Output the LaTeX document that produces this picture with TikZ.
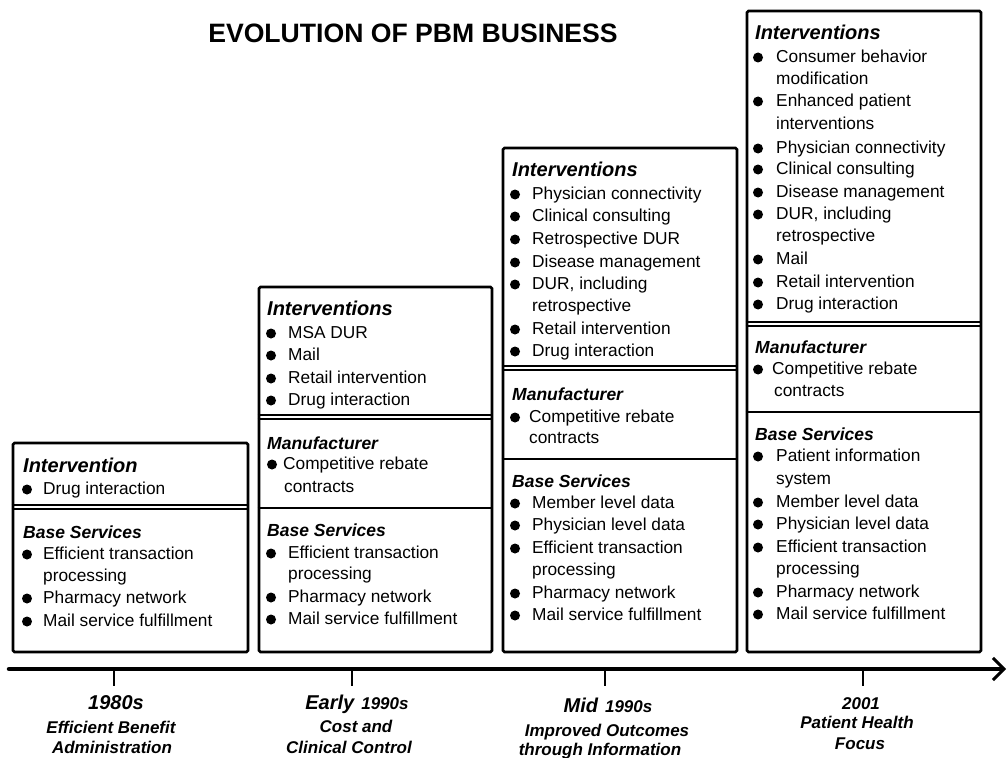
\documentclass[tikz,border=0pt]{standalone}
\usepackage{fontspec}
\setmainfont{Liberation Sans}
\usetikzlibrary{arrows.meta}
\tikzset{
  box/.style={draw, line width=2.6pt, rounded corners=1.5pt, inner sep=0pt},
  hdr/.style={anchor=west, inner sep=0pt, font=\fontsize{20}{24}\selectfont\bfseries\itshape, text height=14.3pt, text depth=0pt},
  sub/.style={anchor=west, inner sep=0pt, font=\fontsize{17.5}{21}\selectfont\bfseries\itshape, text height=12.5pt, text depth=0pt},
  itm/.style={anchor=west, inner sep=0pt, font=\fontsize{17.3}{20}\selectfont, text height=12.4pt, text depth=0pt},
  bul/.style={circle, fill, inner sep=0pt, minimum size=10pt},
  sepline/.style={line width=1.1pt},
  lbl/.style={inner sep=0pt, font=\fontsize{17}{20}\selectfont\bfseries\itshape, text height=12.2pt, text depth=0pt},
  tick/.style={line width=1.3pt},
}
\newcommand\bitem[5]{\node[bul] (#1b) at (#2,#4+1.5) {};\node[itm] (#1) at (#3,#4) {#5};}
\newcommand\citem[4]{\node[itm] (#1) at (#2,#3) {#4};}
\newcommand\bigw[1]{{\fontsize{20}{24}\selectfont #1}}
\begin{document}
\begin{tikzpicture}[x=1pt,y=-1pt]
\useasboundingbox (0,0) rectangle (1008,757);
% title
\node[inner sep=0pt, font=\fontsize{26.6}{30}\selectfont\bfseries] (title) at (413,33) {EVOLUTION OF PBM BUSINESS};

% boxes
\node[box, minimum width=235pt, minimum height=209pt] (b1) at (130.5,547.5) {};
\node[box, minimum width=233pt, minimum height=365pt] (b2) at (375.5,469.5) {};
\node[box, minimum width=234pt, minimum height=504pt] (b3) at (620,400) {};
\node[box, minimum width=234pt, minimum height=641pt] (b4) at (864,331.5) {};

% ---------- box 1
\node[hdr] (b1h) at (23,465) {Intervention};
\bitem{b1i1}{27}{43}{488}{Drug interaction}
\draw[sepline] (b1.west |- 0,505) -- (b1.east |- 0,505);
\draw[sepline] (b1.west |- 0,509) -- (b1.east |- 0,509);
\node[sub] (b1s) at (23,532) {Base Services};
\bitem{b1j1}{27}{43}{553}{Efficient transaction}
\citem{b1j1c}{43}{575}{processing}
\bitem{b1j2}{27}{43}{597}{Pharmacy network}
\bitem{b1j3}{27}{43}{620}{Mail service fulfillment}

% ---------- box 2
\node[hdr] (b2h) at (267,308) {Interventions};
\bitem{b2i1}{271}{288}{332}{MSA DUR}
\bitem{b2i2}{271}{288}{354}{Mail}
\bitem{b2i3}{271}{288}{377}{Retail intervention}
\bitem{b2i4}{271}{288}{399}{Drug interaction}
\draw[sepline] (b2.west |- 0,415) -- (b2.east |- 0,415);
\draw[sepline] (b2.west |- 0,419) -- (b2.east |- 0,419);
\node[sub] (b2m) at (267,443) {Manufacturer};
\bitem{b2m1}{272}{283}{463}{Competitive rebate}
\citem{b2m1c}{284}{486}{contracts}
\draw[sepline, line width=1.3pt] (b2.west |- 0,508) -- (b2.east |- 0,508);
\node[sub] (b2s) at (267,530) {Base Services};
\bitem{b2j1}{271}{288}{552}{Efficient transaction}
\citem{b2j1c}{288}{573}{processing}
\bitem{b2j2}{271}{288}{596}{Pharmacy network}
\bitem{b2j3}{271}{288}{618}{Mail service fulfillment}

% ---------- box 3
\node[hdr] (b3h) at (512,169) {Interventions};
\bitem{b3i1}{515}{532}{193}{Physician connectivity}
\bitem{b3i2}{515}{532}{215}{Clinical consulting}
\bitem{b3i3}{515}{532}{238}{Retrospective DUR}
\bitem{b3i4}{515}{532}{261}{Disease management}
\bitem{b3i5}{515}{532}{283}{DUR, including}
\citem{b3i5c}{532}{305}{retrospective}
\bitem{b3i6}{515}{532}{328}{Retail intervention}
\bitem{b3i7}{515}{532}{350}{Drug interaction}
\draw[sepline] (b3.west |- 0,366) -- (b3.east |- 0,366);
\draw[sepline] (b3.west |- 0,370) -- (b3.east |- 0,370);
\node[sub] (b3m) at (512,394) {Manufacturer};
\bitem{b3m1}{515}{529}{416}{Competitive rebate}
\citem{b3m1c}{529}{437}{contracts}
\draw[sepline, line width=1.3pt] (b3.west |- 0,459) -- (b3.east |- 0,459);
\node[sub] (b3s) at (512,481) {Base Services};
\bitem{b3j1}{515}{532}{502}{Member level data}
\bitem{b3j2}{515}{532}{524}{Physician level data}
\bitem{b3j3}{515}{532}{547}{Efficient transaction}
\citem{b3j3c}{532}{569}{processing}
\bitem{b3j4}{515}{532}{592}{Pharmacy network}
\bitem{b3j5}{515}{532}{614}{Mail service fulfillment}

% ---------- box 4
\node[hdr] (b4h) at (755,32) {Interventions};
\bitem{b4i1}{758}{776}{56}{Consumer behavior}
\citem{b4i1c}{776}{78}{modification}
\bitem{b4i2}{758}{776}{100}{Enhanced patient}
\citem{b4i2c}{776}{123}{interventions}
\bitem{b4i3}{758}{776}{147}{Physician connectivity}
\bitem{b4i4}{758}{776}{168}{Clinical consulting}
\bitem{b4i5}{758}{776}{191}{Disease management}
\bitem{b4i6}{758}{776}{213}{DUR, including}
\citem{b4i6c}{776}{235}{retrospective}
\bitem{b4i7}{758}{776}{258}{Mail}
\bitem{b4i8}{758}{776}{281}{Retail intervention}
\bitem{b4i9}{758}{776}{303}{Drug interaction}
\draw[sepline] (b4.west |- 0,322) -- (b4.east |- 0,322);
\draw[sepline] (b4.west |- 0,326) -- (b4.east |- 0,326);
\node[sub] (b4m) at (755,347) {Manufacturer};
\bitem{b4m1}{758}{772}{368}{Competitive rebate}
\citem{b4m1c}{774}{390}{contracts}
\draw[sepline, line width=1.3pt] (b4.west |- 0,412) -- (b4.east |- 0,412);
\node[sub] (b4s) at (755,434) {Base Services};
\bitem{b4j1}{758}{776}{455}{Patient information}
\citem{b4j1c}{776}{478}{system}
\bitem{b4j2}{758}{776}{501}{Member level data}
\bitem{b4j3}{758}{776}{523}{Physician level data}
\bitem{b4j4}{758}{776}{546}{Efficient transaction}
\citem{b4j4c}{776}{568}{processing}
\bitem{b4j5}{758}{776}{591}{Pharmacy network}
\bitem{b4j6}{758}{776}{613}{Mail service fulfillment}

% ---------- axis
\coordinate (axs) at (9,669);
\coordinate (axe) at (1006,669);
\draw[line width=4.5pt, line cap=round, -{Straight Barb[length=11pt,width=22pt,line width=3pt]}] (axs) -- (axe);
\coordinate (t1) at (114,669);
\coordinate (t2) at (352,669);
\coordinate (t3) at (605,669);
\coordinate (t4) at (863,669);
\foreach \t in {t1,t2,t3,t4} \draw[tick] (\t) -- ++(0,17);

% ---------- labels
\node[lbl] (l1a) at (116,703) {\bigw{1980s}};
\node[lbl] (l1b) at (111,727) {Efficient Benefit};
\node[lbl] (l1c) at (112,747) {Administration};

\node[lbl] (l2a) at (357,703) {\bigw{Early}\hspace{7pt}1990s};
\node[lbl] (l2b) at (356,726) {Cost and};
\node[lbl] (l2c) at (349,747) {Clinical Control};

\node[lbl] (l3a) at (608,706) {\bigw{Mid}\hspace{7pt}1990s};
\node[lbl] (l3b) at (607,730) {Improved Outcomes};
\node[lbl] (l3c) at (600,749) {through Information};

\node[lbl] (l4a) at (861,703) {2001};
\node[lbl] (l4b) at (857,722) {Patient Health};
\node[lbl] (l4c) at (860,743) {Focus};
\end{tikzpicture}
\end{document}
